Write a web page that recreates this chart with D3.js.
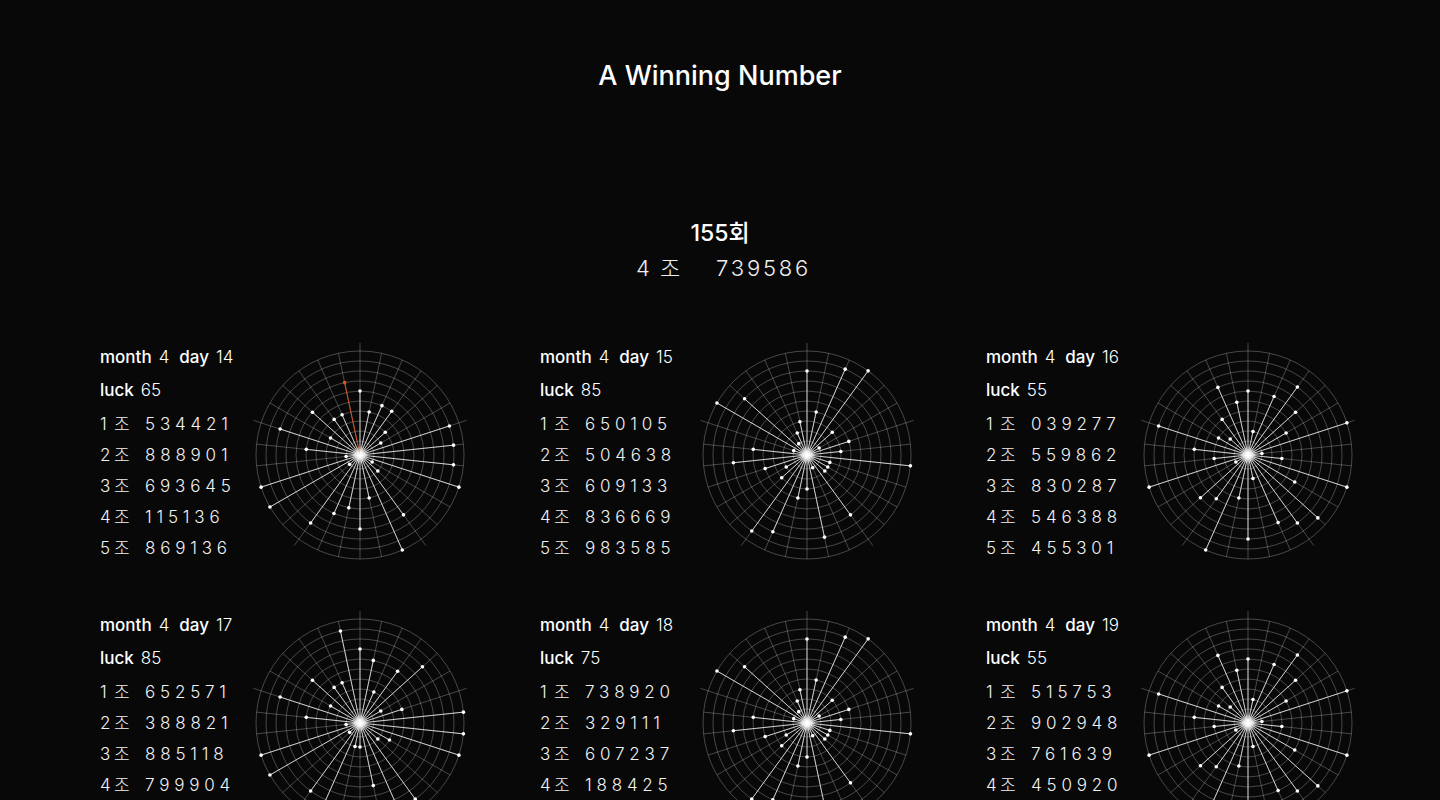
<!DOCTYPE html>
<html><head><meta charset="utf-8">
<script src="https://cdn.jsdelivr.net/npm/d3@7"></script>
<style>
html,body{margin:0;background:#080808;overflow:hidden;}
svg{display:block;}
text{font-family:Inter,"Noto Sans CJK KR",sans-serif;fill:#fff;}
</style></head><body>
<svg id="chart" width="1440" height="800"></svg>
<script>
// ---------- data ----------
const title = "A Winning Number";
const roundLabel = "155회";
const winningGroup = "4";
const groupWord = "조";
const winningDigits = "739586";

const months = [4, 4, 4, 4, 4, 4];
const days = [14, 15, 16, 17, 18, 19];
const lucks = [65, 85, 55, 85, 75, 55];

const tickets1 = ["534421", "888901", "693645", "115136", "869136"];
const tickets2 = ["650105", "504638", "609133", "836669", "983585"];
const tickets3 = ["039277", "559862", "830287", "546388", "455301"];
const tickets4 = ["652571", "388821", "885118", "799904"];
const tickets5 = ["738920", "329111", "607237", "188425"];
const tickets6 = ["515753", "902948", "761639", "450920"];

// spoke digits as drawn in each radial chart (30 spokes, clockwise from top)
const spokes1 = [5,3,4,4,2,1, 8,8,8,9,0,1, 6,9,3,6,4,5, 7,0,9,9,0,4, 7,2,5,3,3,6];
const spokes2 = [7,3,8,9,2,0, 3,2,9,1,1,1, 6,0,7,2,3,7, 8,2,1,3,6,4, 0,9,7,0,1,2];
const spokes3 = [5,1,5,7,5,3, 9,0,2,9,4,8, 7,6,1,7,3,9, 4,5,0,9,2,4, 8,2,1,3,6,4];
const spokes4 = [6,5,2,5,7,1, 3,9,9,9,2,1, 8,8,5,1,1,8, 7,0,9,9,0,4, 7,2,5,3,3,8];
const spokes5 = [7,3,8,9,2,0, 3,2,9,1,1,1, 6,0,7,2,3,7, 8,2,1,3,6,4, 0,9,7,0,1,2];
const spokes6 = [5,1,5,7,5,3, 9,0,2,9,4,8, 7,6,1,7,3,9, 4,5,0,9,2,4, 8,2,1,3,6,4];

const highlights = [[29], [], [], [], [], []]; // highlighted spoke index per panel

const digitLevels = [0,1,2,3,4,5,6,7,8,9];

// ---------- layout ----------
const svg = d3.select("#chart");
const W = 1440;
const colText = [100, 540, 986];
const colChart = [360, 807, 1248];
const rowTop = [357, 625];

const allTickets = [tickets1, tickets2, tickets3, tickets4, tickets5, tickets6];
const allSpokes = [spokes1, spokes2, spokes3, spokes4, spokes5, spokes6];

const panels = months.map((m, i) => ({
  month: m, day: days[i], luck: lucks[i],
  tickets: allTickets[i], spokes: allSpokes[i], hl: highlights[i],
  col: i % 3, row: Math.floor(i / 3)
}));

// header
svg.append("text").attr("x", W / 2).attr("y", 85).attr("text-anchor", "middle")
  .style("font-size", "27px").style("font-weight", 500).text(title);
svg.append("text").attr("x", W / 2).attr("y", 241).attr("text-anchor", "middle")
  .style("font-size", "23px").style("font-weight", 500).text(roundLabel);
const win = svg.append("text").attr("y", 276).style("font-size", "22px").style("font-weight", 300).style("fill", "#eee");
win.append("tspan").attr("x", 636).text(winningGroup);
win.append("tspan").attr("x", 660).text(groupWord);
win.append("tspan").attr("x", 716).style("letter-spacing", "2.8px").text(winningDigits);

// scales
const nSpokes = 30;
const angle = d3.scaleLinear().domain([0, nSpokes]).range([0, 2 * Math.PI]);
const radius = d3.scaleLinear().domain([0, 9]).range([14, 104]);
const axisLen = 112;

const defs = svg.append("defs");
const grad = defs.append("radialGradient").attr("id", "glow");
grad.append("stop").attr("offset", "0%").attr("stop-color", "#fff").attr("stop-opacity", 1);
grad.append("stop").attr("offset", "45%").attr("stop-color", "#fff").attr("stop-opacity", 0.6);
grad.append("stop").attr("offset", "100%").attr("stop-color", "#fff").attr("stop-opacity", 0);

const pt = (a, r) => [Math.sin(a) * r, -Math.cos(a) * r];

panels.forEach(p => {
  const tx = colText[p.col];
  const ty = rowTop[p.row];
  const g = svg.append("g");

  // month / day
  const t1 = g.append("text").attr("x", tx).attr("y", ty + 6).style("font-size", "17px");
  t1.append("tspan").style("font-weight", 500).text("month");
  t1.append("tspan").attr("dx", 7).style("font-weight", 300).text(p.month);
  t1.append("tspan").attr("dx", 10).style("font-weight", 500).text("day");
  t1.append("tspan").attr("dx", 7).style("font-weight", 300).text(p.day);

  const t2 = g.append("text").attr("x", tx).attr("y", ty + 39).style("font-size", "17px");
  t2.append("tspan").style("font-weight", 500).text("luck");
  t2.append("tspan").attr("dx", 7).style("font-weight", 300).text(p.luck);

  p.tickets.forEach((tk, k) => {
    const y = ty + 73 + k * 31;
    const t = g.append("text").attr("y", y).style("font-size", "17px").style("font-weight", 300).style("fill", "#f2f2f2");
    t.append("tspan").attr("x", tx).text(k + 1);
    t.append("tspan").attr("x", tx + 14).text(groupWord);
    t.append("tspan").attr("x", tx + 45).style("letter-spacing", "4.8px").text(tk);
  });

  // radial chart
  const cx = colChart[p.col];
  const cy = ty + 98;
  const c = g.append("g").attr("transform", `translate(${cx},${cy})`);

  c.selectAll("circle.ring").data(digitLevels).join("circle")
    .attr("class", "ring").attr("r", d => radius(d))
    .attr("fill", "none").attr("stroke", "#fff").attr("stroke-opacity", 0.32).attr("stroke-width", 0.8);

  c.selectAll("line.grid").data(d3.range(nSpokes)).join("line")
    .attr("class", "grid")
    .attr("x1", 0).attr("y1", 0)
    .attr("x2", i => pt(angle(i), i % 6 === 0 ? axisLen : radius(9))[0])
    .attr("y2", i => pt(angle(i), i % 6 === 0 ? axisLen : radius(9))[1])
    .attr("stroke", "#fff").attr("stroke-opacity", 0.32).attr("stroke-width", 0.8);

  const sp = p.spokes.map((v, i) => ({ v, i, hl: p.hl.includes(i) }));
  const ordered = sp.filter(d => !d.hl).concat(sp.filter(d => d.hl));

  c.selectAll("line.spoke").data(ordered).join("line")
    .attr("class", "spoke")
    .attr("x1", 0).attr("y1", 0)
    .attr("x2", d => pt(angle(d.i), radius(d.v))[0])
    .attr("y2", d => pt(angle(d.i), radius(d.v))[1])
    .attr("stroke", d => d.hl ? "#e0561d" : "#fff")
    .attr("stroke-opacity", d => d.hl ? 1 : 0.8)
    .attr("stroke-width", 0.9);

  c.selectAll("circle.dot").data(ordered).join("circle")
    .attr("class", "dot")
    .attr("cx", d => pt(angle(d.i), radius(d.v))[0])
    .attr("cy", d => pt(angle(d.i), radius(d.v))[1])
    .attr("r", 1.8)
    .attr("fill", d => d.hl ? "#e0561d" : "#fff");

  c.append("circle").attr("r", 9).attr("fill", "url(#glow)");
});
</script>
</body></html>
